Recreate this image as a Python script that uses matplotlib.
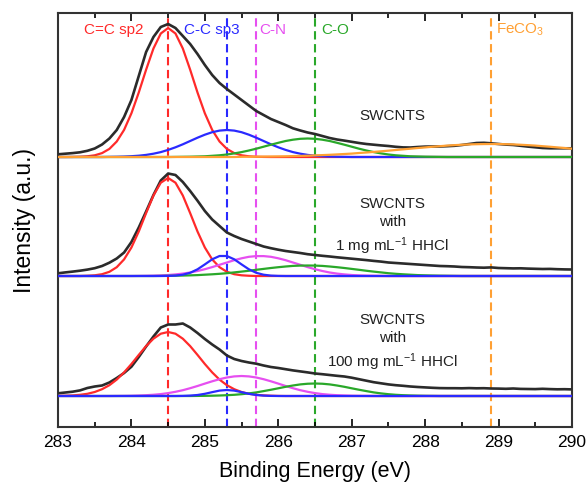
import numpy as np
import matplotlib
matplotlib.use("Agg")
import matplotlib.pyplot as plt

plt.rcParams['font.family'] = ['Liberation Sans', 'DejaVu Sans']
plt.rcParams['mathtext.fontset'] = 'custom'
plt.rcParams['mathtext.rm'] = 'Liberation Sans'
plt.rcParams['mathtext.it'] = 'Liberation Sans:italic'

# ---------------- data ----------------
E_MIN, E_MAX, E_STEP = 283.0, 290.0, 0.1

# measured spectra (relative to each panel baseline), 283.0 ... 290.0 eV, step 0.1
black_swcnts = [2.7, 3.3, 3.9, 4.7, 6.2, 8.5, 12.5, 18.5, 27, 40,
                57, 81, 105, 120, 130, 133, 129, 121, 113, 103,
                92, 82, 74, 68, 62.5, 57, 51.5, 46, 42, 38,
                35, 32, 28.7, 26.5, 24.5, 23, 21, 19, 17.5, 16.4,
                15.2, 14, 13, 12.3, 11.6, 11, 10.2, 9.6, 9.5, 10,
                10.4, 10.5, 10.5, 10.8, 11.2, 12, 13, 14, 14.2, 13.7,
                13, 12.4, 12, 11.2, 10.4, 9.7, 9, 8.7, 8.7, 8.7, 8.7]
black_1mg = [2.7, 3.6, 4.4, 5.3, 6.4, 7.8, 10, 13.3, 17.5, 23.5,
             34, 48.5, 64.5, 81, 95.5, 102.5, 101, 94, 85, 75.3,
             65, 56.5, 50, 43.5, 40, 37, 34.5, 32, 29.5, 27.8,
             26.3, 25, 24, 23, 21.8, 21, 20.2, 19.5, 18.7, 18,
             17.3, 16.6, 15.9, 15.1, 14.4, 13.5, 13, 12.5, 12, 11.5,
             11, 10.5, 10, 9.8, 9.5, 9, 8.8, 8.5, 8.3, 8.6,
             8, 7.8, 7.6, 7.7, 7.4, 7.2, 7.0, 7.1, 6.8, 6.6, 6.5]
black_100mg = [2.7, 3.5, 4.3, 5.6, 8, 9.5, 10.5, 13.5, 18, 23,
               29.3, 39, 49.5, 59.5, 68.5, 71.5, 71.5, 72.5, 68.5, 63,
               57, 51.5, 46.5, 40.5, 37, 35, 33.5, 32.3, 30.5, 29,
               28, 26.8, 25.6, 24.6, 23.6, 22.5, 21.8, 21, 20.2, 19.5,
               18.3, 16.8, 15.3, 13.8, 12.7, 11.6, 10.8, 10.2, 9.5, 9.0,
               8.6, 8.2, 7.9, 7.8, 7.8, 7.7, 7.9, 7.7, 7.8, 7.5,
               7.4, 7.2, 7.5, 7.1, 7.0, 6.9, 7.2, 6.9, 6.7, 6.8, 6.6]

# fitted components: (start energy, values every 0.1 eV)
p1_red = (283.2, [0.08, 0.25, 0.7, 1.7, 3.9, 8.1, 15.5, 27.1, 43.7, 64.5, 87.3, 108.5, 123.5,
                  129, 123.5, 108.5, 87.3, 64.5, 43.7, 27.1, 15.5, 8.1, 3.9, 1.7, 0.7, 0.25, 0.08])
p1_blue = (283.7, [0.13, 0.25, 0.45, 0.8, 1.3, 2.1, 3.3, 4.9, 7.1, 9.7, 12.7, 16.0, 19.3, 22.3, 24.8, 26.4,
                   27, 26.4, 24.8, 22.3, 19.3, 16.0, 12.7, 9.7, 7.1, 4.9, 3.3, 2.1, 1.3, 0.8, 0.45, 0.25, 0.13])
p1_green = (284.6, [0.1, 0.2, 0.3, 0.5, 0.7, 1.2, 1.7, 2.5, 3.6, 4.9, 6.5, 8.3, 10.3, 12.3, 14.2, 16.0, 17.3, 18.2,
                    18.5, 18.2, 17.3, 16.0, 14.2, 12.3, 10.3, 8.3, 6.5, 4.9, 3.6, 2.5, 1.7, 1.2, 0.7, 0.5, 0.3, 0.2, 0.1])
p1_orange = (285.5, [0.2, 0.25, 0.3, 0.4, 0.5, 0.6, 0.7, 0.9, 1.1, 1.3, 1.6, 1.9, 2.2, 2.6, 3.0, 3.4, 4.0, 4.5,
                     5.1, 5.7, 6.35, 7.0, 7.65, 8.3, 9.0, 9.6, 10.25, 10.8, 11.4, 11.85, 12.25, 12.6, 12.8,
                     12.95, 13.0, 12.95, 12.8, 12.6, 12.25, 11.85, 11.4, 10.8, 10.25, 9.6, 9.0, 8.3])

p2_red = (283.4, [0.25, 0.7, 1.8, 4.2, 8.8, 16.6, 28.5, 44.5, 62.9, 80.5, 93.3,
                  98, 93.3, 80.5, 62.9, 44.5, 28.5, 16.6, 8.8, 4.2, 1.8, 0.7, 0.25])
p2_blue = (284.5, [0.1, 0.4, 1.3, 3.2, 6.7, 11.6, 16.7, 20.0, 20.0, 16.7, 11.6, 6.7, 3.2, 1.3, 0.4, 0.1])
p2_magenta = (284.1, [0.1, 0.2, 0.35, 0.6, 1.0, 1.6, 2.4, 3.5, 5.0, 6.8, 8.9, 11.2, 13.5, 15.8, 17.7, 19.2, 19.9,
                      19.9, 19.2, 17.7, 15.8, 13.5, 11.2, 8.9, 6.8, 5.0, 3.5, 2.4, 1.6, 1.0, 0.6, 0.35, 0.2, 0.1])
p2_green = (284.4, [0.1, 0.2, 0.3, 0.45, 0.65, 0.9, 1.3, 1.7, 2.2, 2.8, 3.6, 4.4, 5.25, 6.2, 7.1, 8.0, 8.8, 9.5,
                    10.1, 10.4, 10.5, 10.4, 10.1, 9.5, 8.8, 8.0, 7.1, 6.2, 5.25, 4.4, 3.6, 2.8, 2.2, 1.7, 1.3,
                    0.9, 0.65, 0.45, 0.3, 0.2, 0.1])

p3_red = (283.0, [0.1, 0.3, 0.6, 1.2, 2.2, 4.0, 6.8, 10.8, 16.4, 23.6, 32, 41.1, 49.9, 57.3, 62.3,
                  64, 62.3, 57.3, 49.9, 41.1, 32, 23.6, 16.4, 10.8, 6.8, 4.0, 2.2, 1.2, 0.6, 0.3, 0.1])
p3_blue = (284.7, [0.1, 0.4, 1.0, 2.2, 3.85, 5.4, 6, 5.4, 3.85, 2.2, 1.0, 0.4, 0.1])
p3_magenta = (283.8, [0.08, 0.14, 0.26, 0.5, 0.8, 1.25, 1.9, 2.9, 4.2, 5.8, 7.8, 10.0, 12.4, 14.7, 16.8, 18.5, 19.6,
                      20, 19.6, 18.5, 16.8, 14.7, 12.4, 10.0, 7.8, 5.8, 4.2, 2.9, 1.9, 1.25, 0.8, 0.5, 0.26, 0.14, 0.08])
p3_green = (284.9, [0.09, 0.16, 0.3, 0.5, 0.8, 1.2, 1.8, 2.6, 3.6, 4.9, 6.25, 7.7, 9.2, 10.5, 11.6, 12.26,
                    12.5, 12.26, 11.6, 10.5, 9.2, 7.7, 6.25, 4.9, 3.6, 2.6, 1.8, 1.2, 0.8, 0.5, 0.3, 0.16, 0.09])

peak_names = ["C=C sp2", "C-C sp3", "C-N", "C-O", "FeCO$_3$"]
peak_positions = [284.5, 285.3, 285.7, 286.5, 288.9]

sample_labels = ["SWCNTS", "SWCNTS\nwith\n1 mg mL$^{-1}$ HHCl", "SWCNTS\nwith\n100 mg mL$^{-1}$ HHCl"]
x_ticks = [283, 284, 285, 286, 287, 288, 289, 290]

# ---------------- style / layout ----------------
C_RED, C_BLUE, C_MAG, C_GREEN, C_ORANGE, C_BLACK = "#ff2a2a", "#2a2aff", "#e64ff0", "#2aa82a", "#ffa033", "#2b2b2b"
peak_colors = [C_RED, C_BLUE, C_MAG, C_GREEN, C_ORANGE]
PANEL_OFFSETS = [270, 151, 31]
Y_MAX = 414

energy = np.round(np.linspace(E_MIN, E_MAX, int(round((E_MAX - E_MIN) / E_STEP)) + 1), 1)


def full(comp):
    start, vals = comp
    out = np.zeros_like(energy)
    i0 = int(round((start - E_MIN) / E_STEP))
    out[i0:i0 + len(vals)] = vals
    return out


fig = plt.figure(figsize=(5.87, 4.87), dpi=100)
ax = fig.add_axes([0.0988, 0.1232, 0.8756, 0.8501])

panels = [
    (black_swcnts, [(p1_red, C_RED), (p1_blue, C_BLUE), (p1_green, C_GREEN), (p1_orange, C_ORANGE)]),
    (black_1mg, [(p2_red, C_RED), (p2_magenta, C_MAG), (p2_green, C_GREEN), (p2_blue, C_BLUE)]),
    (black_100mg, [(p3_red, C_RED), (p3_magenta, C_MAG), (p3_green, C_GREEN), (p3_blue, C_BLUE)]),
]

# dashed reference lines
for pos, col in zip(peak_positions, peak_colors):
    ax.axvline(pos, color=col, lw=1.5, ls=(0, (4, 2.2)), zorder=1)

for (black, comps), off in zip(panels, PANEL_OFFSETS):
    ax.plot(energy, np.array(black) + off, color=C_BLACK, lw=1.9, zorder=3)
    for comp, col in comps:
        ax.plot(energy, full(comp) + off, color=col, lw=1.6, zorder=4)

# peak name labels
label_x = [283.35, 284.72, 285.74, 286.58, 288.97]
for name, lx, col in zip(peak_names, label_x, peak_colors):
    ax.text(lx, 397, name, color=col, fontsize=11, ha='left', va='center')

# sample labels
label_y = [311, 200, 84]
for txt, ly in zip(sample_labels, label_y):
    ax.text(287.55, ly, txt, ha='center', va='center', fontsize=11, color='#222222', linespacing=1.42)

ax.set_xlim(E_MIN, E_MAX)
ax.set_ylim(0, Y_MAX)
ax.set_xticks(x_ticks)
ax.set_xticks(np.arange(283.5, 290, 1.0), minor=True)
ax.set_yticks([])
ax.tick_params(axis='x', which='both', direction='in', top=True, labelsize=12.5, width=1.2, pad=6)
ax.tick_params(axis='x', which='major', length=6)
ax.tick_params(axis='x', which='minor', length=3.5)
for s in ax.spines.values():
    s.set_linewidth(1.5)
    s.set_color('#333333')
ax.set_xlabel("Binding Energy (eV)", fontsize=15.5, labelpad=8)
ax.set_ylabel("Intensity (a.u.)", fontsize=16.5, labelpad=16)

fig.savefig("out.png", dpi=100)
